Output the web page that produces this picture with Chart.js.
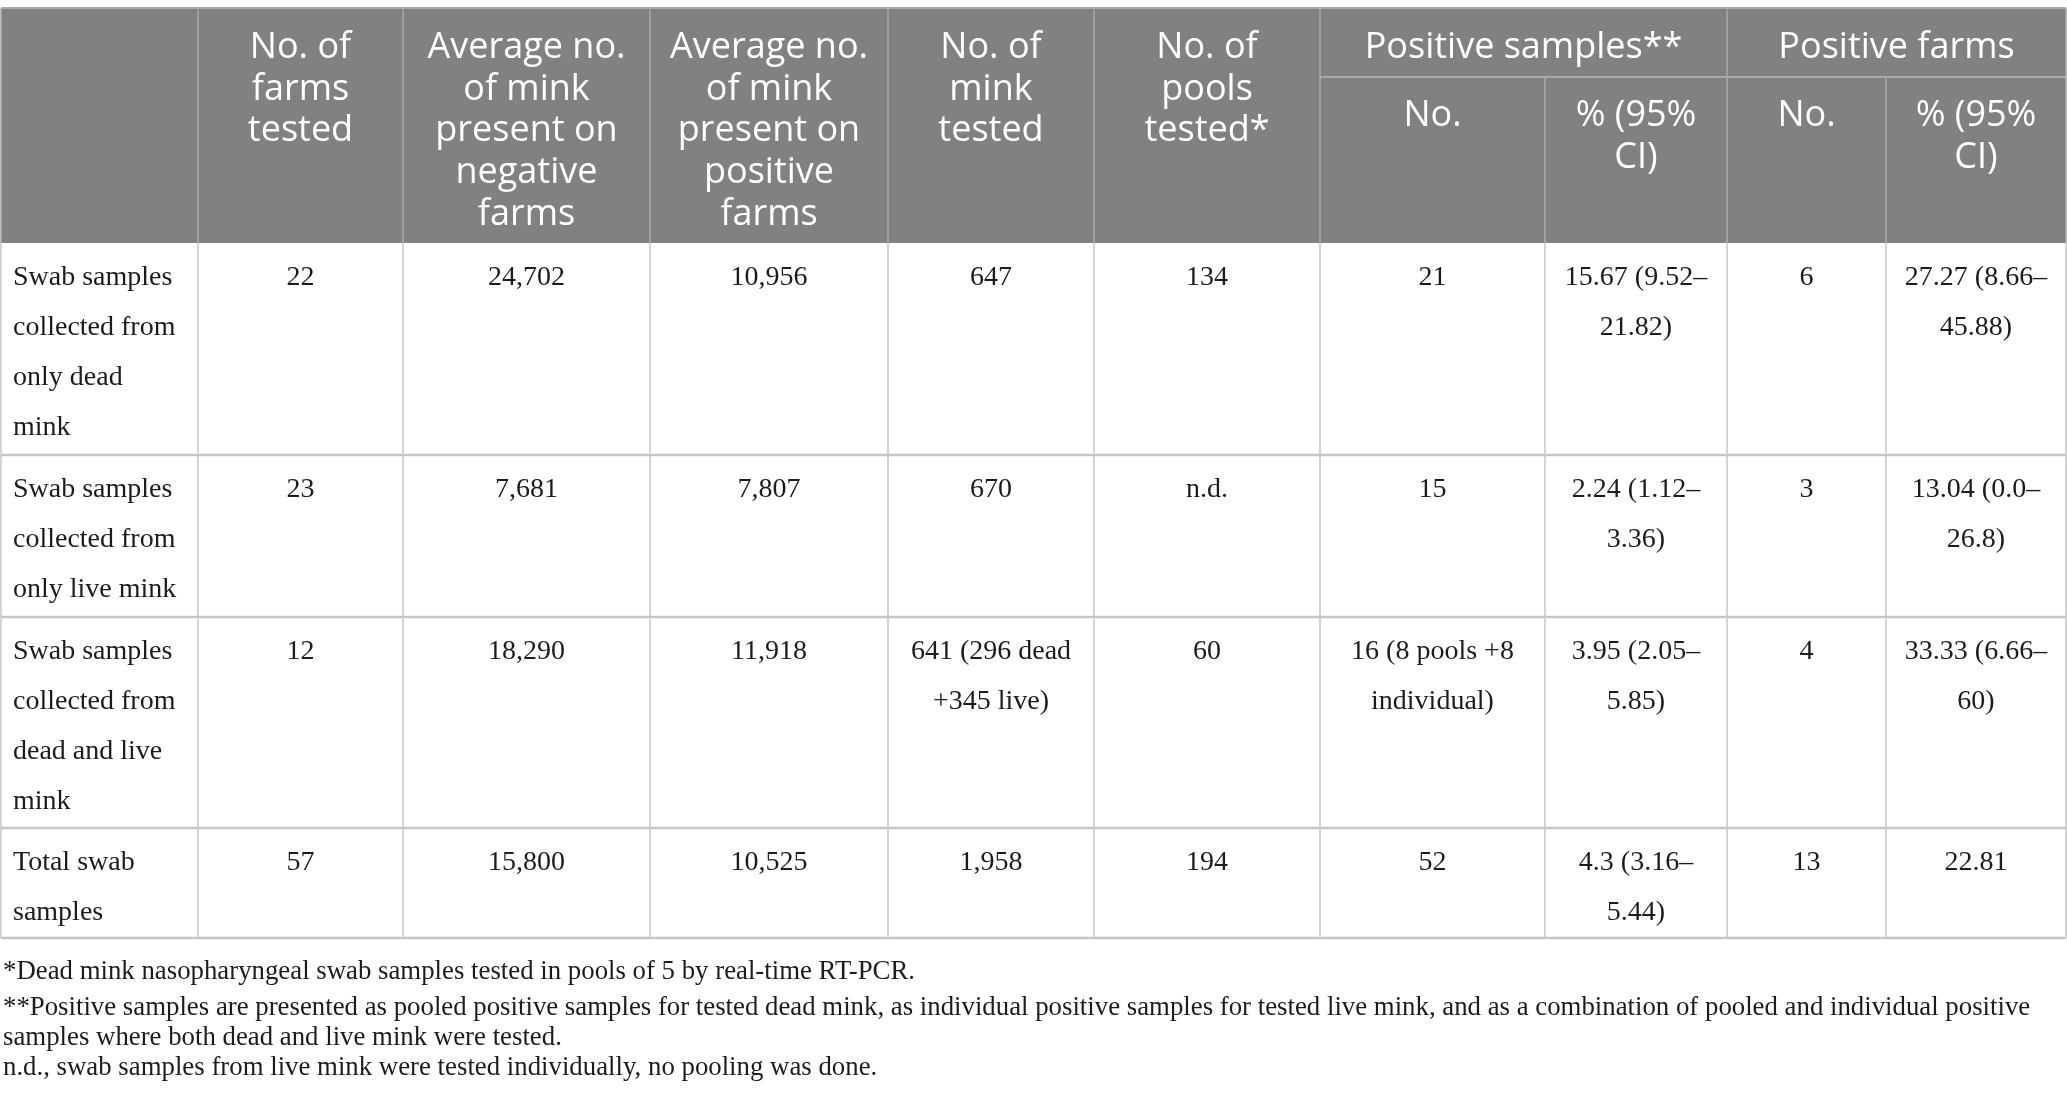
<!DOCTYPE html>
<html>
<head>
<meta charset="utf-8">
<script src="https://cdn.jsdelivr.net/npm/chart.js@4.4.1/dist/chart.umd.min.js"></script>
<style>
  html, body { margin: 0; padding: 0; background: #ffffff; }
  #wrap { width: 2067px; height: 1108px; }
</style>
</head>
<body>
<div id="wrap"><canvas id="Tabela-graphic"></canvas></div>
<script>
// cabeçalhos
const headers = [
  [''],
  ['No. of', 'farms', 'tested'],
  ['Average no.', 'of mink', 'present on', 'negative', 'farms'],
  ['Average no.', 'of mink', 'present on', 'positive', 'farms'],
  ['No. of', 'mink', 'tested'],
  ['No. of', 'pools', 'tested*']
];
const groupHeaders = ['Positive samples**', 'Positive farms'];
const subHeaders = [['No.'], ['% (95%', 'CI)'], ['No.'], ['% (95%', 'CI)']];

// linhas da tabela
const rowLabels = [
  ['Swab samples', 'collected from', 'only dead', 'mink'],
  ['Swab samples', 'collected from', 'only live mink'],
  ['Swab samples', 'collected from', 'dead and live', 'mink'],
  ['Total swab', 'samples']
];
const farmsTested = [['22'], ['23'], ['12'], ['57']];
const avgMinkNegative = [['24,702'], ['7,681'], ['18,290'], ['15,800']];
const avgMinkPositive = [['10,956'], ['7,807'], ['11,918'], ['10,525']];
const minkTested = [['647'], ['670'], ['641 (296 dead', '+345 live)'], ['1,958']];
const poolsTested = [['134'], ['n.d.'], ['60'], ['194']];
const positiveSamplesNo = [['21'], ['15'], ['16 (8 pools +8', 'individual)'], ['52']];
const positiveSamplesPct = [['15.67 (9.52\u2013', '21.82)'], ['2.24 (1.12\u2013', '3.36)'], ['3.95 (2.05\u2013', '5.85)'], ['4.3 (3.16\u2013', '5.44)']];
const positiveFarmsNo = [['6'], ['3'], ['4'], ['13']];
const positiveFarmsPct = [['27.27 (8.66\u2013', '45.88)'], ['13.04 (0.0\u2013', '26.8)'], ['33.33 (6.66\u2013', '60)'], ['22.81']];

const footnotes = [
  '*Dead mink nasopharyngeal swab samples tested in pools of 5 by real-time RT-PCR.',
  '**Positive samples are presented as pooled positive samples for tested dead mink, as individual positive samples for tested live mink, and as a combination of pooled and individual positive',
  'samples where both dead and live mink were tested.',
  'n.d., swab samples from live mink were tested individually, no pooling was done.'
];

// layout (unidades da escala)
const colEdges = [1, 198, 403, 650, 888, 1094, 1320, 1545, 1727, 1886, 2066];
const headTop = 8, subHeadTop = 77, headBottom = 243;
const rowEdges = [243, 455, 617, 828, 938];
const footY = [972, 1008, 1038, 1068];

const columns = [farmsTested, avgMinkNegative, avgMinkPositive, minkTested, poolsTested,
  positiveSamplesNo, positiveSamplesPct, positiveFarmsNo, positiveFarmsPct];

const tablePlugin = {
  id: 'tableDraw',
  afterDraw(chart) {
    const ctx = chart.ctx;
    const px = v => chart.scales.x.getPixelForValue(v);
    const py = v => chart.scales.y.getPixelForValue(v);
    const line = (x1, y1, x2, y2, color, w) => {
      ctx.beginPath();
      ctx.strokeStyle = color;
      ctx.lineWidth = w;
      ctx.moveTo(px(x1), py(y1));
      ctx.lineTo(px(x2), py(y2));
      ctx.stroke();
    };
    const left = colEdges[0], right = colEdges[colEdges.length - 1];
    ctx.save();

    // fundo do cabeçalho
    ctx.fillStyle = '#808180';
    ctx.fillRect(px(left), py(headTop), px(right) - px(left), py(headBottom) - py(headTop));

    // linhas do cabeçalho
    const headLine = '#a9aaa9';
    line(left, headTop, right, headTop, headLine, 2);
    colEdges.forEach((c, i) => {
      if (i === 7 || i === 9) {
        line(c, subHeadTop, c, headBottom, headLine, 1.5);
      } else {
        line(c, headTop, c, headBottom, headLine, 1.5);
      }
    });
    line(colEdges[6], subHeadTop, right, subHeadTop, headLine, 2);

    // texto do cabeçalho
    ctx.fillStyle = '#ffffff';
    ctx.font = '36px "Open Sans"';
    ctx.textAlign = 'center';
    ctx.textBaseline = 'middle';
    headers.forEach((lines, i) => {
      const cx = (colEdges[i] + colEdges[i + 1]) / 2;
      lines.forEach((t, k) => ctx.fillText(t, px(cx), py(headTop + 40 + k * 41.6)));
    });
    groupHeaders.forEach((t, g) => {
      const cx = (colEdges[6 + g * 2] + colEdges[8 + g * 2]) / 2;
      ctx.fillText(t, px(cx), py(headTop + 40));
    });
    subHeaders.forEach((lines, i) => {
      const cx = (colEdges[6 + i] + colEdges[7 + i]) / 2;
      lines.forEach((t, k) => ctx.fillText(t, px(cx), py(subHeadTop + 39 + k * 41.6)));
    });

    // linhas do corpo
    const bodyLine = '#c6c6c6';
    colEdges.forEach(c => line(c, headBottom, c, rowEdges[rowEdges.length - 1], bodyLine, 1.5));
    rowEdges.slice(1).forEach(r => line(left, r, right, r, bodyLine, 2.5));

    // texto do corpo
    ctx.fillStyle = '#1c1c1c';
    ctx.font = '28px "Liberation Serif"';
    rowLabels.forEach((lines, r) => {
      ctx.textAlign = 'left';
      lines.forEach((t, k) => ctx.fillText(t, px(13), py(rowEdges[r] + 35 + k * 50)));
      ctx.textAlign = 'center';
      columns.forEach((col, c) => {
        const cx = (colEdges[c + 1] + colEdges[c + 2]) / 2;
        col[r].forEach((t, k) => ctx.fillText(t, px(cx), py(rowEdges[r] + 35 + k * 50)));
      });
    });

    // notas de rodapé
    ctx.textAlign = 'left';
    ctx.font = '26.8px "Liberation Serif"';
    footnotes.forEach((t, i) => ctx.fillText(t, px(3), py(footY[i])));
    ctx.restore();
  }
};

new Chart(document.getElementById('Tabela-graphic'), {
  type: 'scatter',
  data: { datasets: [{ data: [], pointRadius: 0 }] },
  options: {
    responsive: true,
    maintainAspectRatio: false,
    animation: false,
    devicePixelRatio: 1,
    layout: { padding: 0 },
    plugins: { legend: { display: false }, tooltip: { enabled: false } },
    scales: {
      x: { type: 'linear', min: 0, max: 2067, display: false },
      y: { type: 'linear', min: 0, max: 1108, reverse: true, display: false }
    }
  },
  plugins: [tablePlugin]
});
</script>
</body>
</html>
